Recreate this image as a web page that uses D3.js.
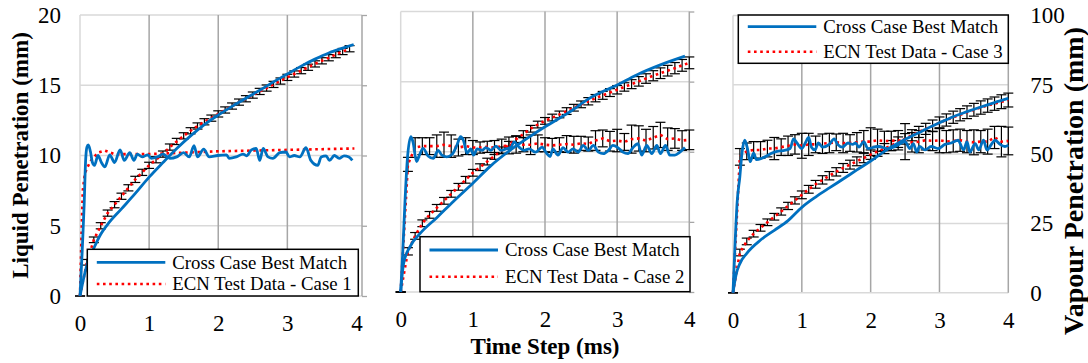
<!DOCTYPE html>
<html>
<head>
<meta charset="utf-8">
<script src="https://cdn.jsdelivr.net/npm/d3@7"></script>
<style>
body { margin: 0; background: #fff; }
svg, svg text { font-family: "Liberation Serif", "Times New Roman", serif !important; }
</style>
</head>
<body>
<div id="chart-area"></div>
<script>
// ---- data ----
var xTicks = [0, 1, 2, 3, 4];
var yLeftTicks = [0, 5, 10, 15, 20];
var yRightTicks = [0, 25, 50, 75, 100];
var legendNames = ["Cross Case Best Match", "ECN Test Data - Case 1", "ECN Test Data - Case 2", "ECN Test Data - Case 3"];

// test-data time base (ms)
var tTest = [0,0.1,0.2,0.3,0.4,0.5,0.6,0.7,0.8,0.9,1.0,1.1,1.2,1.3,1.4,1.5,1.6,1.7,1.8,1.9,2.0,
             2.1,2.2,2.3,2.4,2.5,2.6,2.7,2.8,2.9,3.0,3.1,3.2,3.3,3.4,3.5,3.6,3.7,3.8,3.9,4.0];

// Case 1
var c1LiqSimT = [0,0.03,0.06,0.08,0.1,0.12,0.15,0.18,0.21,0.26,0.31,0.36,0.43,0.5,0.58,0.64,0.72,0.78,0.83,0.9,
                 0.98,1.03,1.12,1.2,1.3,1.4,1.5,1.58,1.65,1.7,1.79,1.87,1.99,2.12,2.16,2.26,2.36,2.41,2.48,2.55,
                 2.6,2.65,2.72,2.79,2.89,2.98,3.03,3.1,3.18,3.27,3.34,3.44,3.49,3.56,3.61,3.68,3.75,3.82,3.89,3.94];
var c1LiqSim = [0,3,6.5,9.5,10.6,10.75,10.3,9.5,9.3,10.0,9.5,9.2,10.05,9.5,10.4,9.65,10.2,9.65,10.1,9.9,
                10.05,9.8,9.9,10.1,9.8,9.9,10.2,9.9,10.7,9.9,10.45,9.9,10.0,10.05,9.8,9.9,10.1,9.98,10.4,10.5,
                9.65,10.5,9.9,9.8,10.2,10.25,9.9,10.0,9.9,10.55,9.65,9.3,9.9,9.98,9.65,10.0,9.8,9.98,9.9,9.65];
var c1LiqTestT = [0,0.02,0.04,0.07,0.1,0.16,0.26,0.36,0.5,1.0,1.5,2.0,2.5,3.0,3.5,3.97];
var c1LiqTest = [0,4,7.5,8.7,9.1,9.65,10.2,10.35,10.1,10.1,10.2,10.3,10.35,10.4,10.45,10.5];
var c1VapSimT = [0,0.05,0.1,0.2,0.3,0.4,0.6,0.8,1.0,1.2,1.4,1.6,1.8,2.0,2.2,2.4,2.6,2.8,3.0,3.2,3.4,3.6,3.8,3.96];
var c1VapSim = [0,6,11,17,22,25.5,31,36.5,42.3,47.5,52.5,57,61,64.4,67.5,70.4,73.2,76.2,79,81.8,84.3,86.5,88.2,89.5];
var c1VapTest = [0,12,20,25,29.5,32.5,35.5,38.5,41.5,44,46.5,48.5,50.5,53,55,57,58.8,60.5,62,63.3,
                 64.8,66.2,67.6,69,70.2,71.5,72.8,74,75.3,76.5,77.8,79,80.2,81.4,82.6,83.7,84.8,85.9,87,88];
var c1VapErr = [0,1.0,1.0,1.1,1.1,1.1,1.1,1.1,1.1,1.1,1.1,1.1,1.1,1.1,1.1,1.1,1.1,1.1,1.1,1.1,
                1.1,1.1,1.1,1.1,1.1,1.1,1.1,1.1,1.1,1.1,1.1,1.1,1.1,1.1,1.1,1.1,1.1,1.1,1.1,1.1];

// Case 2
var c2LiqSimT = [0,0.03,0.06,0.09,0.14,0.17,0.22,0.26,0.31,0.38,0.45,0.52,0.57,0.64,0.71,0.78,0.83,0.87,0.92,0.97,
                 1.01,1.06,1.13,1.18,1.25,1.32,1.39,1.46,1.53,1.57,1.64,1.71,1.78,1.87,1.96,2.02,2.07,2.11,2.18,2.25,
                 2.32,2.39,2.46,2.53,2.6,2.67,2.74,2.81,2.88,2.94,3.01,3.08,3.15,3.22,3.29,3.34,3.41,3.48,3.55,3.6,
                 3.67,3.73,3.8,3.87,3.94];
var c2LiqSim = [0,3,6.5,9.3,11.07,10.7,9.3,9.76,10.24,9.7,9.53,10.1,9.76,9.64,9.8,10.48,11.07,10.8,9.9,10.2,
                9.76,10.2,10.1,10.3,10.1,10.4,10.1,10.2,10.33,10.7,10.33,10.1,10.2,9.97,10.33,9.9,9.66,10.2,9.76,10.3,
                9.97,10.2,9.97,10.45,10.1,10.45,9.97,9.86,10.1,10.45,10.3,9.97,9.86,10.3,10.57,9.76,10.45,9.86,10.45,9.86,
                10.45,9.76,9.76,9.97,10.3];
var c2LiqTest = [0,9.1,10.3,10.4,10.4,10.4,10.5,10.4,10.3,10.4,10.3,10.3,10.35,10.3,10.4,10.45,10.5,10.5,10.5,10.6,
                 10.5,10.45,10.5,10.55,10.5,10.6,10.55,10.8,10.95,10.75,10.8,10.7,10.9,10.95,10.8,11.0,11.2,10.9,10.95,10.8,10.85];
var c2LiqErr = [0,0.5,0.7,0.6,0.6,0.8,0.9,0.8,0.6,0.6,0.5,0.4,0.4,0.5,0.5,0.6,0.6,0.5,0.7,0.6,
                0.5,0.5,0.5,0.6,0.6,0.5,0.5,0.7,0.6,0.7,0.8,0.6,1.0,0.9,0.8,0.8,0.9,0.8,0.7,0.7,0.7];
var c2VapSimT = [0,0.02,0.04,0.13,0.27,0.5,0.73,1.0,1.24,1.51,1.79,2.0,2.35,2.62,3.0,3.27,3.59,3.94];
var c2VapSim = [0,6,10.2,16.2,20.9,26.5,32.3,38.8,44.8,50.4,55.4,58.9,64.3,69.1,73.8,77.4,80.9,84.1];
var c2VapTest = [0,14.5,20,24.5,27.5,30,32.5,35,37.5,40,42.5,44.5,46.5,48.5,50.5,52.5,54.5,56.3,58.2,59.7,
                 61,62.2,63.3,64.5,65.7,66.9,68,69.1,70.1,71.1,72.1,73.1,74.1,75.1,76.1,77.1,78,78.9,79.8,80.8,81.7];
var c2VapErr = [0,1.3,1.2,1.2,1.2,1.2,1.2,1.2,1.2,1.2,1.2,1.2,1.2,1.2,1.2,1.2,1.2,1.2,1.2,1.2,
                1.2,1.2,1.2,1.2,1.2,1.2,1.3,1.3,1.4,1.4,1.5,1.5,1.6,1.7,1.7,1.8,1.9,1.9,2.0,2.1,2.1];

// Case 3
var c3LiqSimT = [0,0.03,0.06,0.1,0.13,0.17,0.21,0.25,0.3,0.34,0.42,0.49,0.56,0.64,0.73,0.83,0.88,0.93,1.0,1.05,
                 1.1,1.14,1.19,1.24,1.3,1.4,1.47,1.52,1.59,1.67,1.74,1.78,1.83,1.9,1.96,2.11,2.25,2.38,2.5,2.57,
                 2.62,2.67,2.71,2.79,2.88,2.98,3.08,3.17,3.27,3.35,3.4,3.44,3.52,3.57,3.64,3.69,3.76,3.81,3.88,3.95,4.0];
var c3LiqSim = [0,3.5,6.5,8.4,10.06,11.0,10.4,9.45,10.06,9.6,9.7,9.86,10.06,10.2,10.25,10.4,11.1,10.8,10.4,10.8,
                11.2,10.5,10.3,10.8,10.5,10.7,11.1,10.7,10.5,10.8,10.7,10.8,10.5,10.9,10.4,10.55,10.4,10.6,10.9,10.4,
                10.75,10.15,10.55,10.3,10.55,10.4,10.7,10.8,11.0,10.3,10.9,10.15,10.75,10.3,11.0,10.3,10.75,11.0,10.7,10.55,10.65];
var c3LiqTest = [0,9.8,10.2,10.3,10.3,10.4,10.4,10.5,10.6,10.7,10.6,10.7,10.7,10.75,10.8,10.85,10.8,10.8,10.85,10.9,
                 10.9,11.0,10.95,10.95,11.0,10.9,10.85,10.9,11.0,10.95,11.0,10.9,10.95,11.0,10.9,10.85,10.9,10.9,11.2,10.9,10.95];
var c3LiqErr = [0,0.6,0.6,0.6,0.6,0.6,0.8,0.6,0.7,0.7,0.9,0.8,0.6,0.7,0.7,0.6,0.7,0.6,0.7,0.8,
                1.0,0.8,0.7,0.7,0.7,1.3,0.7,0.8,0.7,0.7,0.9,0.8,0.8,0.8,0.8,0.9,0.8,0.9,0.8,1.1,1.0];
var c3VapSimT = [0,0.05,0.1,0.2,0.4,0.6,0.8,1.0,1.2,1.4,1.6,1.8,2.0,2.2,2.4,2.6,2.8,3.0,3.2,3.4,3.6,3.8,4.0];
var c3VapSim = [0,7,10.5,14.2,19,22.5,26,30.8,34.5,37.8,41,44.3,47.5,51,54,56.5,59,61.3,63.5,65.3,67,68.6,70.1];
var c3VapTest = [0,14.5,18.5,21.3,23.4,25.4,27.4,29.3,31.3,33.3,35.3,37.3,39.1,40.7,42.2,43.6,45,46.2,47.4,48.6,
                 49.8,51,52,53.1,54.3,55.5,56.8,58,59.1,60.2,61.3,62.3,63.3,64.2,65.1,66,66.8,67.5,68.2,68.9,69.5];
var c3VapErr = [0,1.2,1.2,1.2,1.2,1.2,1.2,1.3,1.3,1.3,1.4,1.4,1.4,1.5,1.5,1.5,1.6,1.6,1.6,1.7,
                1.7,1.8,1.8,1.8,1.9,1.9,2.0,2.0,2.0,2.1,2.1,2.2,2.2,2.2,2.3,2.3,2.4,2.4,2.4,2.5,2.5];

// ---- layout ----
var width = 1088, height = 363;
var blue = "#0070C0", red = "#FF0000";
var hGrid = "#d9d9d9", vGrid = "#a6a6a6";
var serif = "'Liberation Serif', 'Times New Roman', serif";

var svg = d3.select("#chart-area")
    .append("svg")
        .attr("width", width)
        .attr("height", height);

function zip(t, v, e) {
    return v.map(function(d, i) { return {t: t[i], v: d, e: e ? e[i] : 0}; });
}

var panels = [
    {x0: 80, x1: 362, xMax: 4.08, yTop: 15, yBot: 296, leftLabels: true, rightLabels: false, rightTicks: true,
     legend: {x: 87.3, y: 249.3, w: 271, h: 46.7, r1: 13, r2: 34.7}, caseName: legendNames[1],
     liqSim: zip(c1LiqSimT, c1LiqSim), liqTest: zip(c1LiqTestT, c1LiqTest), liqBars: false,
     vapSim: zip(c1VapSimT, c1VapSim), vapTest: zip(tTest, c1VapTest, c1VapErr)},
    {x0: 400.7, x1: 689.3, xMax: 4, yTop: 11.5, yBot: 292, leftLabels: false, rightLabels: false, rightTicks: true,
     legend: {x: 420, y: 236.7, w: 270, h: 55, r1: 13.3, r2: 40}, caseName: legendNames[2],
     liqSim: zip(c2LiqSimT, c2LiqSim), liqTest: zip(tTest, c2LiqTest, c2LiqErr), liqBars: true,
     vapSim: zip(c2VapSimT, c2VapSim), vapTest: zip(tTest, c2VapTest, c2VapErr)},
    {x0: 733, x1: 1008.3, xMax: 4, yTop: 15.5, yBot: 292.7, leftLabels: false, rightLabels: true, rightTicks: false,
     legend: {x: 738.3, y: 15, w: 270, h: 48.3, r1: 11.7, r2: 36.7}, caseName: legendNames[3],
     liqSim: zip(c3LiqSimT, c3LiqSim), liqTest: zip(tTest, c3LiqTest, c3LiqErr), liqBars: true,
     vapSim: zip(c3VapSimT, c3VapSim), vapTest: zip(tTest, c3VapTest, c3VapErr)}
];

panels.forEach(drawPanel);

function drawPanel(p) {
    var g = svg.append("g");

    var x = d3.scaleLinear().domain([0, p.xMax]).range([p.x0, p.x1]);
    var yL = d3.scaleLinear().domain([0, 20]).range([p.yBot, p.yTop]);
    var yR = d3.scaleLinear().domain([0, 100]).range([p.yBot, p.yTop]);

    // horizontal gridlines (light)
    g.append("g").selectAll("line")
        .data(yLeftTicks.slice(1))
        .enter().append("line")
            .attr("x1", p.x0).attr("x2", p.x1)
            .attr("y1", d => yL(d)).attr("y2", d => yL(d))
            .attr("stroke", hGrid).attr("stroke-width", 1.5);

    // vertical gridlines (darker)
    g.append("g").selectAll("line")
        .data(xTicks.filter(d => d > 0 && x(d) < p.x1 - 8))
        .enter().append("line")
            .attr("x1", d => x(d)).attr("x2", d => x(d))
            .attr("y1", p.yTop).attr("y2", p.yBot)
            .attr("stroke", vGrid).attr("stroke-width", 1.5);

    // frame
    g.append("line").attr("x1", p.x0).attr("x2", p.x0).attr("y1", p.yTop).attr("y2", p.yBot)
        .attr("stroke", hGrid).attr("stroke-width", 1.5);
    g.append("line").attr("x1", p.x0).attr("x2", p.x1).attr("y1", p.yBot).attr("y2", p.yBot)
        .attr("stroke", hGrid).attr("stroke-width", 1.5);
    g.append("line").attr("x1", p.x1).attr("x2", p.x1).attr("y1", p.yTop).attr("y2", p.yBot)
        .attr("stroke", vGrid).attr("stroke-width", 1.5);

    if (p.rightTicks) {
        var rt = g.append("g")
            .attr("transform", "translate(" + p.x1 + ",0)")
            .call(d3.axisRight(yL).tickValues(yLeftTicks).tickSize(5).tickFormat(""));
        rt.select(".domain").remove();
        rt.selectAll("line").attr("stroke", vGrid).attr("stroke-width", 1.3);
    }

    // x axis labels
    var xa = g.append("g")
        .attr("transform", "translate(0," + p.yBot + ")")
        .call(d3.axisBottom(x).tickValues(xTicks).tickSize(0).tickPadding(19).tickFormat(d3.format("d")));
    xa.select(".domain").remove();
    xa.attr("font-family", serif).attr("font-size", 23);
    xa.selectAll("text").attr("fill", "#000");

    if (p.leftLabels) {
        var ya = g.append("g")
            .attr("transform", "translate(" + p.x0 + ",0)")
            .call(d3.axisLeft(yL).tickValues(yLeftTicks).tickSize(0).tickPadding(19));
        ya.select(".domain").remove();
        ya.attr("font-family", serif).attr("font-size", 23);
        ya.selectAll("text").attr("fill", "#000");
    }
    if (p.rightLabels) {
        var yr = g.append("g")
            .attr("transform", "translate(" + p.x1 + ",0)")
            .call(d3.axisRight(yR).tickValues(yRightTicks).tickSize(0).tickPadding(22));
        yr.select(".domain").remove();
        yr.attr("font-family", serif).attr("font-size", 23);
        yr.selectAll("text").attr("fill", "#000");
    }

    // error bars
    var cap = 5;
    function bars(data, y) {
        var eb = g.append("g").attr("stroke", "#000").attr("stroke-width", 1.2);
        data.forEach(function(d) {
            var xp = x(d.t), yLo = y(d.v - d.e), yHi = y(d.v + d.e);
            eb.append("line").attr("x1", xp).attr("x2", xp).attr("y1", yLo).attr("y2", yHi);
            eb.append("line").attr("x1", xp - cap).attr("x2", xp + cap).attr("y1", yLo).attr("y2", yLo);
            eb.append("line").attr("x1", xp - cap).attr("x2", xp + cap).attr("y1", yHi).attr("y2", yHi);
        });
    }
    bars(p.vapTest, yR);
    if (p.liqBars) bars(p.liqTest, yL);

    // test data (red dotted)
    function testLine(y) {
        return d3.line().x(d => x(d.t)).y(d => y(d.v));
    }
    g.append("path").datum(p.liqTest)
        .attr("fill", "none").attr("stroke", red).attr("stroke-width", 2.6)
        .attr("stroke-dasharray", "2.6,3.6").attr("d", testLine(yL));
    g.append("path").datum(p.vapTest)
        .attr("fill", "none").attr("stroke", red).attr("stroke-width", 2.6)
        .attr("stroke-dasharray", "2.6,3.6").attr("d", testLine(yR));

    // simulation (blue solid)
    function simLine(y) {
        return d3.line().curve(d3.curveMonotoneX).x(d => x(d.t)).y(d => y(d.v));
    }
    g.append("path").datum(p.vapSim)
        .attr("fill", "none").attr("stroke", blue).attr("stroke-width", 2.8)
        .attr("stroke-linejoin", "round").attr("d", simLine(yR));
    g.append("path").datum(p.liqSim)
        .attr("fill", "none").attr("stroke", blue).attr("stroke-width", 2.8)
        .attr("stroke-linejoin", "round").attr("d", simLine(yL));

    // legend
    var L = p.legend;
    var lg = g.append("g").attr("transform", "translate(" + L.x + "," + L.y + ")");
    lg.append("rect").attr("width", L.w).attr("height", L.h)
        .attr("fill", "#fff").attr("stroke", "#000").attr("stroke-width", 1.5);
    lg.append("line").attr("x1", 9.5).attr("x2", 78).attr("y1", L.r1).attr("y2", L.r1)
        .attr("stroke", blue).attr("stroke-width", 2.8);
    lg.append("line").attr("x1", 9.5).attr("x2", 78).attr("y1", L.r2).attr("y2", L.r2)
        .attr("stroke", red).attr("stroke-width", 2.6).attr("stroke-dasharray", "2.6,3.6");
    lg.append("text").attr("x", 85).attr("y", L.r1 + 6.3).attr("font-size", 18.8).text(legendNames[0]);
    lg.append("text").attr("x", 85).attr("y", L.r2 + 6.3).attr("font-size", 18.8).text(p.caseName);
}

// axis titles
svg.append("text")
    .attr("transform", "translate(20,155.5) rotate(-90)")
    .attr("text-anchor", "middle").attr("dominant-baseline", "central")
    .attr("font-weight", "bold").attr("font-size", 23)
    .text("Liquid Penetration (mm)");

svg.append("text")
    .attr("transform", "translate(1073,181) rotate(-90)")
    .attr("text-anchor", "middle").attr("dominant-baseline", "central")
    .attr("font-weight", "bold").attr("font-size", 28)
    .text("Vapour Penetration (mm)");

svg.append("text")
    .attr("x", 545).attr("y", 354)
    .attr("text-anchor", "middle")
    .attr("font-weight", "bold").attr("font-size", 23)
    .text("Time Step (ms)");
</script>
</body>
</html>
